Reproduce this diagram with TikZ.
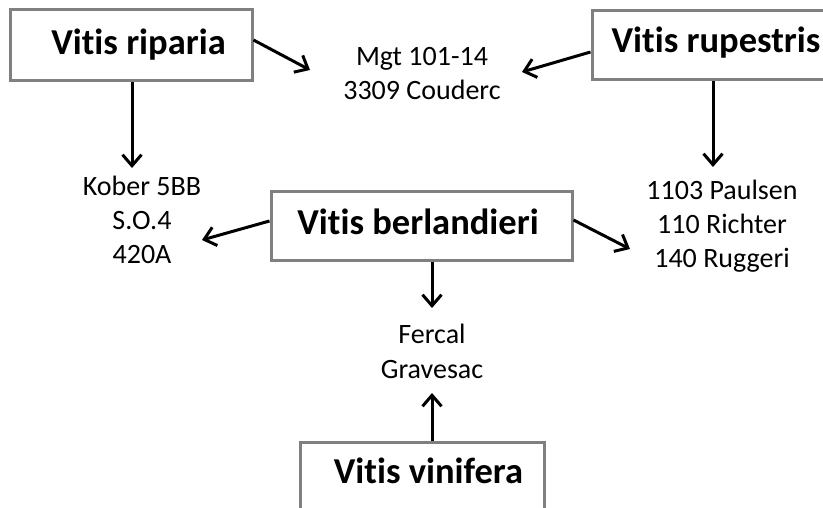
\documentclass[tikz,border=0pt]{standalone}
\usepackage{fontspec}
\setmainfont{Carlito}[Ligatures=NoCommon]
\usetikzlibrary{arrows.meta,calc}
\definecolor{boxgray}{RGB}{128,128,128}
\begin{document}
\begin{tikzpicture}[x=1pt,y=-1pt,
  species/.style={draw=boxgray, line width=3pt, fill=white, inner sep=0pt,
    font=\fontsize{36.5}{44}\selectfont\bfseries, text height=25pt},
  cultivar/.style={font=\fontsize{28}{34.5}\selectfont, align=center, anchor=base, inner sep=0pt},
  link/.style={line width=3pt, -{Straight Barb[length=11pt,width=19pt]}}]
\useasboundingbox (0,0) rectangle (823,508);
\clip (0,0) rectangle (823,508);

\node[species, minimum width=242pt, minimum height=71pt, text depth=6pt] (riparia) at (131,45.5) {\hspace*{15pt}Vitis riparia};
\node[species, minimum width=248pt, minimum height=69pt, text depth=10pt] (rupestris) at (716,45.5) {Vitis rupestris};
\node[species, minimum width=301pt, minimum height=69pt, text depth=8pt] (berl) at (421.5,226.5) {Vitis berlandieri\hspace*{7pt}};
\node[species, minimum width=244pt, minimum height=88pt, text depth=31pt] (vinifera) at (422,486) {\hspace*{13pt}Vitis vinifera};

\node[cultivar] (mgt) at (422,100) {Mgt 101-14\\3309 Couderc};
\node[cultivar] (kober) at (142,264) {Kober 5BB\\S.O.4\\420A};
\node[cultivar] (paulsen) at (722,268) {1103 Paulsen\\110 Richter\\140 Ruggeri};
\node[cultivar] (fercal) at (432,378) {Fercal\\Gravesac};

\draw[link] ([yshift=5.5pt]riparia.east) -- ($(mgt.base)+(-112,-30)$);
\draw[link] ([yshift=-6.5pt]rupestris.west) -- ($(mgt.base)+(100,-28)$);
\draw[link] ([xshift=1pt]riparia.south) -- ($(kober.base)+(-10,-96)$);
\draw[link] ([xshift=-3pt]rupestris.south) -- ($(paulsen.base)+(-9,-101)$);
\draw[link] ([yshift=5.5pt]berl.west) -- ($(kober.base)+(60,-24)$);
\draw[link] ([yshift=6.5pt]berl.east) -- ($(paulsen.base)+(-92,-19)$);
\draw[link] ([xshift=10.5pt]berl.south) -- ($(fercal.base)+(0,-70)$);
\draw[link] ([xshift=10pt]vinifera.north) -- ($(fercal.base)+(0,15)$);
\end{tikzpicture}
\end{document}
